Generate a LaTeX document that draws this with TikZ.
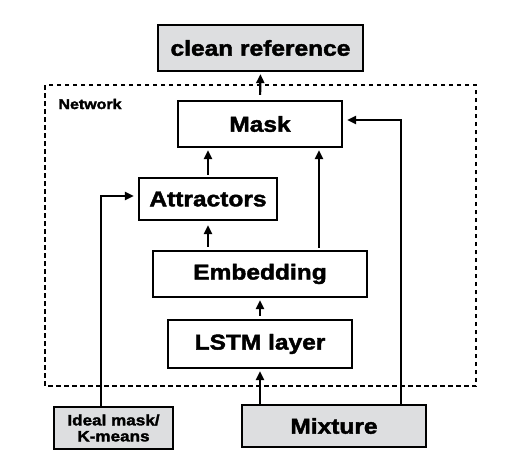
\documentclass[tikz,border=0pt]{standalone}
\usepackage{fontspec}
\newfontfamily\blk[FakeBold=2,FakeStretch=1.14]{Liberation Sans}
\usetikzlibrary{arrows.meta}
\definecolor{boxgray}{HTML}{DDDEE0}
\tikzset{
  blockbox/.style={draw, line width=2.2pt, font=\blk\bfseries\fontsize{21.5}{23}\selectfont, inner sep=0pt, align=center},
  grayblock/.style={blockbox, fill=boxgray},
  arr/.style={line width=2.2pt, -{Triangle[length=9pt,width=8pt]}, shorten >=2pt},
  conn/.style={line width=2.2pt}
}
\begin{document}
\begin{tikzpicture}[x=1pt,y=-1pt]
\useasboundingbox (0,0) rectangle (521,467);
\draw[line width=2.2pt, dash pattern=on 4.5pt off 3.5pt] (45,85) rectangle (476,386);
\node[font=\blk\bfseries\fontsize{14}{15}\selectfont, anchor=west] (net) at (55,104) {Network};
\node[grayblock, minimum width=205pt, minimum height=46pt] (clean) at (260.5,48) {clean reference};
\node[blockbox, minimum width=164pt, minimum height=46pt] (mask) at (260,124) {Mask};
\node[blockbox, minimum width=138pt, minimum height=42pt] (attr) at (208,199) {Attractors};
\node[blockbox, minimum width=214pt, minimum height=46pt] (emb) at (260,274) {Embedding};
\node[blockbox, minimum width=184pt, minimum height=48pt] (lstm) at (260,344) {LSTM layer};
\node[grayblock, minimum width=119pt, minimum height=42pt, font=\blk\bfseries\fontsize{15}{16}\selectfont] (ideal) at (113.5,428) {Ideal mask/\\K-means};
\node[grayblock, minimum width=184pt, minimum height=42pt] (mix) at (334,426) {Mixture};
\coordinate (mixL) at (260,0);
\coordinate (mixR) at (401,0);
\coordinate (idl) at (101,0);
\draw[arr, shorten <=5pt] (mask.north) -- (clean.south);
\draw[arr, shorten <=2pt] (attr.north) -- (attr.north |- mask.south);
\draw[arr, shorten <=2pt] (emb.north -| 319,0) -- (319,0 |- mask.south);
\draw[arr, shorten <=3pt, shorten >=4pt] (emb.north -| attr.north) -- (attr.south);
\draw[arr, shorten <=3pt] (lstm.north) -- (emb.south);
\draw[arr, shorten <=0pt] (mix.north -| mixL) -- (lstm.south);
\draw[arr, shorten >=4pt] (ideal.north -| idl) |- (attr.west |- 0,196);
\draw[arr, shorten >=4pt] (mix.north -| mixR) |- (mask.east |- 0,120);
\end{tikzpicture}
\end{document}
